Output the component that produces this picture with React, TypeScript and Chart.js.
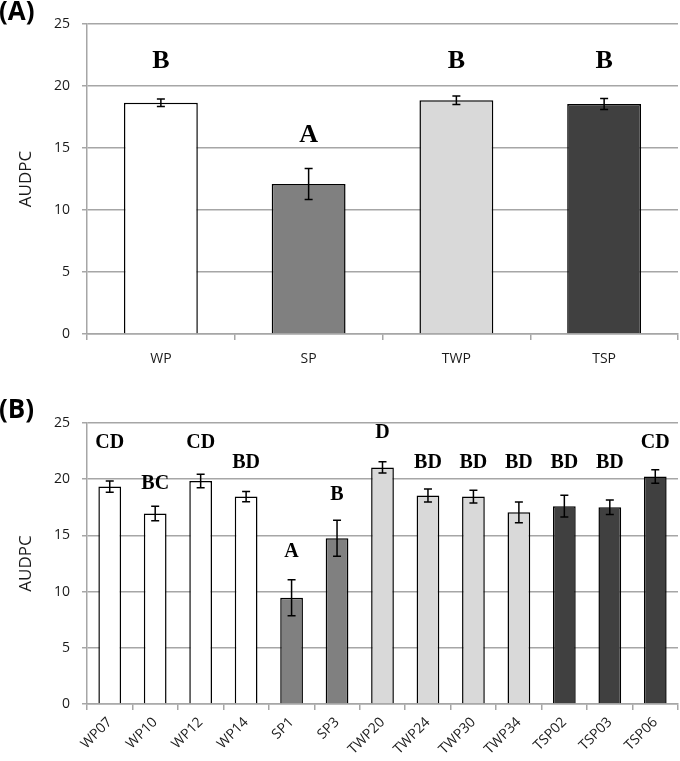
import React, { useEffect, useRef } from "react";
import { Chart, registerables } from "chart.js";

Chart.register(...registerables);

// ---------- Panel A data ----------
const catsA = ["WP", "SP", "TWP", "TSP"];
const meansA = [18.65, 12.1, 18.85, 18.55];
const errA = [0.3, 1.25, 0.35, 0.45];
const lettersA = ["B", "A", "B", "B"];
const letterLevelA = [22.0, 16.05, 22.0, 22.0];
const groupA = [0, 1, 2, 3];

// ---------- Panel B data ----------
const catsB = ["WP07", "WP10", "WP12", "WP14", "SP1", "SP3", "TWP20", "TWP24", "TWP30", "TWP34", "TSP02", "TSP03", "TSP06"];
const meansB = [19.35, 16.95, 19.85, 18.45, 9.45, 14.75, 21.05, 18.55, 18.45, 17.05, 17.6, 17.5, 20.25];
const errB = [0.5, 0.65, 0.6, 0.45, 1.6, 1.6, 0.5, 0.58, 0.57, 0.92, 0.97, 0.64, 0.6];
const lettersB = ["CD", "BC", "CD", "BD", "A", "B", "D", "BD", "BD", "BD", "BD", "BD", "CD"];
const letterLevelB = [23.2, 19.6, 23.2, 21.5, 13.55, 18.6, 24.1, 21.5, 21.5, 21.5, 21.5, 21.5, 23.2];
const groupB = [0, 0, 0, 0, 1, 1, 2, 2, 2, 2, 3, 3, 3];

const yTicks = [0, 5, 10, 15, 20, 25];

const GROUP_COLORS = ["#ffffff", "#808080", "#d9d9d9", "#404040"];
const GRID = "#a6a6a6";
const SANS = "'Open Sans', 'DejaVu Sans', sans-serif";
const SERIF = "'Liberation Serif', 'DejaVu Serif', serif";

type PanelProps = {
  cats: string[];
  means: number[];
  errs: number[];
  letters: string[];
  letterLevels: number[];
  groups: number[];
  panelLabel: string;
  height: number;
  padTop: number;
  xAxisHeight: number;
  letterFont: number;
  rotate: boolean;
  labelY: number;
  xFont: number;
};

function Panel(p: PanelProps) {
  const ref = useRef<HTMLCanvasElement | null>(null);
  useEffect(() => {
    if (!ref.current) return;
    const overlay = {
      id: "overlay",
      afterDatasetsDraw(chart: any) {
        const ctx = chart.ctx;
        const xs = chart.scales.x;
        const ys = chart.scales.y;
        ctx.save();
        ctx.strokeStyle = "#000";
        ctx.lineWidth = 1.5;
        p.means.forEach((m, i) => {
          const x = xs.getPixelForValue(i);
          const yt = ys.getPixelForValue(m + p.errs[i]);
          const yb = ys.getPixelForValue(m - p.errs[i]);
          ctx.beginPath();
          ctx.moveTo(x, yt);
          ctx.lineTo(x, yb);
          ctx.moveTo(x - 4, yt);
          ctx.lineTo(x + 4, yt);
          ctx.moveTo(x - 4, yb);
          ctx.lineTo(x + 4, yb);
          ctx.stroke();
        });
        ctx.fillStyle = "#000";
        ctx.font = `bold ${p.letterFont}px ${SERIF}`;
        ctx.textAlign = "center";
        ctx.textBaseline = "middle";
        p.letters.forEach((t, i) => {
          ctx.fillText(t, xs.getPixelForValue(i), ys.getPixelForValue(p.letterLevels[i]));
        });
        ctx.font = `bold 26px ${SANS}`;
        ctx.textAlign = "left";
        ctx.fillText(p.panelLabel, -1, p.labelY);
        ctx.restore();
      },
    };
    const chart = new Chart(ref.current, {
      type: "bar",
      data: {
        labels: p.cats,
        datasets: [
          {
            data: p.means,
            backgroundColor: p.groups.map((g) => GROUP_COLORS[g]),
            borderColor: "#000",
            borderWidth: 1.5,
            barPercentage: 0.5,
            categoryPercentage: 1,
          },
        ],
      },
      options: {
        responsive: false,
        animation: false,
        devicePixelRatio: 1,
        layout: { padding: { top: p.padTop, right: 2, left: 0, bottom: 0 } },
        plugins: { legend: { display: false }, tooltip: { enabled: false } },
        scales: {
          x: {
            grid: {
              display: true,
              drawOnChartArea: false,
              drawTicks: true,
              tickLength: 6,
              color: GRID,
              lineWidth: 1.5,
            },
            border: { color: GRID, width: 1.5 },
            ticks: {
              color: "#1a1a1a",
              font: { family: SANS, size: p.xFont },
              padding: p.rotate ? 4 : 11,
              autoSkip: false,
              minRotation: p.rotate ? 45 : 0,
              maxRotation: p.rotate ? 45 : 0,
            },
            afterFit: (s: any) => {
              s.height = p.xAxisHeight;
            },
          },
          y: {
            min: 0,
            max: 25,
            afterBuildTicks: (s: any) => {
              s.ticks = yTicks.map((v) => ({ value: v }));
            },
            grid: { color: GRID, lineWidth: 1.5, tickLength: 5, drawTicks: true },
            border: { color: GRID, width: 1.5 },
            ticks: {
              color: "#1a1a1a",
              font: { family: SANS, size: 14 },
              padding: 12,
            },
            title: {
              display: true,
              text: "AUDPC",
              color: "#1a1a1a",
              font: { family: SANS, size: 17 },
              padding: { top: 16, bottom: 0 },
            },
            afterFit: (s: any) => {
              s.width = 87;
            },
          },
        },
      },
      plugins: [overlay],
    });
    return () => chart.destroy();
  }, []);
  return <canvas ref={ref} width={680} height={p.height} style={{ display: "block" }} />;
}

export default function App() {
  useEffect(() => {
    document.body.style.margin = "0";
    document.body.style.background = "#fff";
  }, []);
  return (
    <div style={{ width: 680, height: 761, background: "#fff" }}>
      <Panel
        cats={catsA}
        means={meansA}
        errs={errA}
        letters={lettersA}
        letterLevels={letterLevelA}
        groups={groupA}
        panelLabel="(A)"
        height={380}
        padTop={24}
        xAxisHeight={46}
        letterFont={26}
        rotate={false}
        labelY={13}
        xFont={14}
      />
      <Panel
        cats={catsB}
        means={meansB}
        errs={errB}
        letters={lettersB}
        letterLevels={letterLevelB}
        groups={groupB}
        panelLabel="(B)"
        height={381}
        padTop={43}
        xAxisHeight={57}
        letterFont={20}
        rotate={true}
        labelY={31}
        xFont={14}
      />
    </div>
  );
}
